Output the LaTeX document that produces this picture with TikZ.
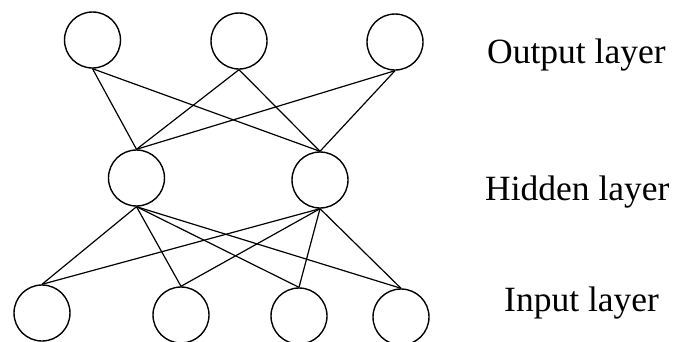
\documentclass[tikz,border=0pt]{standalone}
\usepackage{fontspec}
\setmainfont{Liberation Serif}
\begin{document}
\begin{tikzpicture}[x=1pt,y=-1pt,
  neuron/.style={circle,draw,line width=1.4pt,minimum size=56pt,inner sep=0pt},
  link/.style={line width=1.2pt},
  lbl/.style={font=\fontsize{35.5}{36}\selectfont,anchor=base west,inner sep=0pt}]
\useasboundingbox (0,0) rectangle (673,341);
\node[neuron] (o1) at (92.5,40) {};
\node[neuron] (o2) at (239,41) {};
\node[neuron] (o3) at (395,42) {};
\node[neuron] (h1) at (136.5,178) {};
\node[neuron] (h2) at (320,180) {};
\node[neuron] (i1) at (42,313) {};
\node[neuron] (i2) at (181,315) {};
\node[neuron] (i3) at (299,316) {};
\node[neuron] (i4) at (401,317) {};
\foreach \o in {o1,o2,o3}
  \foreach \h in {h1,h2}
    \draw[link] (\o.south) -- (\h.north);
\foreach \h in {h1,h2}
  \foreach \i in {i1,i2,i3,i4}
    \draw[link] (\h.south) -- (\i.north);
\node[lbl] (lo) at (487,63) {Output layer};
\node[lbl] (lh) at (485,200) {Hidden layer};
\node[lbl] (li) at (504,311) {Input layer};
\end{tikzpicture}
\end{document}
